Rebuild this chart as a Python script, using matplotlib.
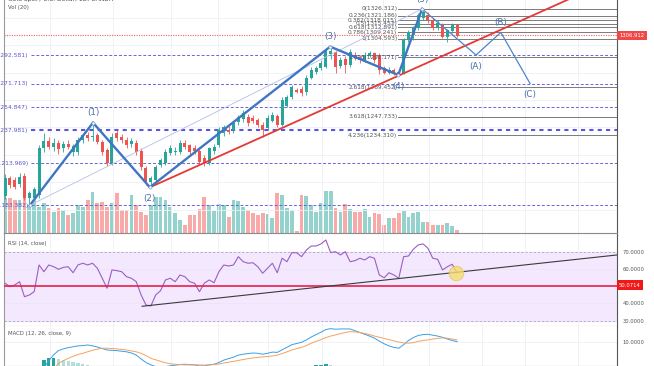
import numpy as np
import matplotlib
matplotlib.use("Agg")
import matplotlib.pyplot as plt

W, H = 654, 366   # output size in px

# ---- daily candles (index = bar number) ----
opens = [1190, 1203, 1202, 1199, 1205, 1188.5, 1189, 1191, 1225, 1230,
         1226, 1229, 1225, 1228, 1222, 1222, 1231, 1234.5, 1233, 1234.5,
         1229.5, 1223.6, 1214, 1236, 1233, 1231, 1228, 1229, 1223, 1210.5,
         1200, 1202, 1213, 1214, 1221.5, 1222, 1222, 1229, 1227, 1225,
         1223, 1218, 1214, 1223, 1227.3, 1236, 1238, 1238, 1244, 1246,
         1248, 1247, 1245.5, 1242, 1239.6, 1245, 1248.4, 1242, 1256, 1262,
         1267.5, 1268, 1265.7, 1276, 1280.5, 1283, 1284, 1293.5, 1295, 1285,
         1290, 1285.5, 1293, 1291, 1289, 1292, 1294, 1292.7, 1283, 1280,
         1281.7, 1280.5, 1280, 1303.6, 1307, 1312.4, 1320, 1321.8, 1318, 1313,
         1314.5, 1306, 1310, 1314.5]
highs = [1206, 1205, 1204, 1207, 1207, 1194, 1197, 1227, 1236, 1233,
         1232, 1231, 1230, 1231, 1228, 1233, 1236, 1237, 1243.5, 1236,
         1231, 1225, 1236, 1238, 1235, 1233, 1232, 1231, 1225, 1212,
         1205, 1213, 1218, 1224, 1227, 1226, 1231, 1231, 1228, 1227,
         1224, 1220, 1226, 1228, 1240, 1242, 1241, 1245, 1249, 1253,
         1250, 1249, 1247, 1244, 1249, 1251, 1250, 1262, 1264, 1271,
         1269, 1270, 1278, 1284, 1285, 1289, 1298, 1298.8, 1296, 1291,
         1292, 1297, 1295, 1293, 1295, 1296, 1295, 1294, 1285, 1284,
         1283, 1282, 1305, 1311, 1314, 1323, 1326.3, 1324, 1320, 1318,
         1316, 1312, 1316, 1315]
lows = [1188, 1196, 1195, 1197, 1187, 1183.4, 1187, 1189, 1222, 1224,
        1223, 1221, 1222, 1224, 1219, 1220, 1229, 1230, 1230, 1228,
        1220, 1212, 1213, 1230, 1229, 1225, 1226, 1220, 1209, 1198,
        1196.5, 1200, 1211, 1213, 1220, 1220, 1221, 1224, 1220, 1221,
        1213, 1212, 1213, 1221, 1226, 1234, 1235, 1236, 1242, 1244,
        1241, 1243, 1240, 1233, 1238, 1244, 1240, 1241, 1255, 1261,
        1265, 1263, 1264, 1275, 1279, 1282, 1283, 1290, 1280, 1283,
        1280, 1284, 1289, 1287, 1288, 1291, 1287, 1279, 1279, 1279,
        1278.5, 1278.2, 1279, 1302, 1304, 1311, 1318, 1316, 1311, 1311,
        1305, 1302, 1309, 1306]
closes = [1203, 1198, 1197, 1204, 1189, 1192, 1195, 1225, 1230, 1226,
          1229, 1224, 1228, 1226, 1226.6, 1231, 1234.5, 1232.5, 1234, 1229.5,
          1222, 1214.2, 1233, 1232.5, 1231, 1227.5, 1230, 1222, 1211, 1200.5,
          1203, 1211, 1216.4, 1222, 1225, 1223, 1229, 1226, 1222, 1223,
          1215, 1214, 1225, 1226, 1238.2, 1240, 1236.7, 1243, 1247.6, 1250.5,
          1243.3, 1244.7, 1241.8, 1238.2, 1247, 1249, 1241.8, 1260, 1262, 1269.5,
          1266, 1265, 1276, 1282, 1283, 1287, 1296.4, 1295.5, 1284, 1289,
          1285.5, 1295, 1291, 1289, 1293, 1294, 1289, 1282, 1280, 1282,
          1279.6, 1279, 1303.6, 1309.5, 1312.4, 1321.8, 1324, 1318, 1312.4, 1316,
          1306, 1311, 1314.5, 1306.9]
volume = [34.7, 34.7, 33, 33, 34.7, 28, 33, 26.3, 29.7, 24.7,
          21.3, 24.7, 23, 18, 19.7, 28, 26.3, 33, 41.3, 29.7,
          31.3, 26.3, 29.7, 39.7, 23, 23, 38, 28, 21.3, 18,
          28, 36.3, 36.3, 33, 26.3, 19.7, 13, 8, 18, 18,
          24, 36.3, 28, 21.7, 29, 28, 16, 33, 32, 26,
          22.7, 20, 18, 20, 19, 15.3, 39.7, 38, 25.3, 22.3,
          2, 38, 37, 28, 21.3, 29.7, 42, 42, 25.3, 20.7,
          28.7, 23.7, 21.3, 21.3, 23.7, 16.3, 20, 19, 8, 14.7,
          14.7, 20.3, 22, 16.3, 20, 21, 11.3, 11.3, 8, 8,
          8, 9.7, 7.3, 3]
rsi = [51.7, 49.7, 50.7, 52.6, 43.9, 44.9, 46.8, 62.3, 58.4, 62.3,
       61.3, 59.8, 60.9, 61.3, 57.8, 62.3, 63.3, 62.3, 63.3, 60.4,
       54.6, 48.8, 59.4, 59.0, 58.4, 55.5, 54.6, 52.6, 44.9, 39.1,
       38.5, 44.9, 47.4, 53.6, 54.6, 52.6, 56.5, 55.5, 52.6, 51.7,
       46.8, 51.7, 53.6, 52.0, 58.4, 62.3, 61.7, 62.3, 67.1, 64.2,
       63.3, 63.6, 61.3, 57.5, 60.4, 63.3, 57.8, 66.2, 64.2, 69.4,
       69.4, 67.1, 71.0, 73.3, 73.3, 74.5, 76.8, 69.5, 70.0, 68.1,
       70.0, 64.2, 64.8, 66.2, 65.2, 67.1, 66.2, 56.5, 54.9, 57.8,
       56.5, 54.6, 67.1, 67.5, 71.4, 73.9, 74.5, 72.0, 66.2, 65.6,
       59.4, 61.3, 62.7, 57.8]
macd = [-4.5, -4.6, -4.6, -4.2, -4.8, -5.0, -4.4, -1.5, 1.5, 3.8,
        5.8, 7.2, 7.8, 8.2, 8.5, 8.8, 8.9, 9.1, 8.8, 8.4,
        7.9, 7.4, 7.3, 7.2, 7.0, 6.8, 6.4, 5.7, 4.4, 3.2,
        2.4, 1.8, 1.6, 1.8, 2.1, 2.3, 2.5, 2.6, 2.5, 2.4,
        2.0, 2.1, 2.4, 2.6, 3.2, 4.0, 4.5, 5.0, 5.7, 6.0,
        6.2, 6.4, 6.3, 6.0, 6.3, 6.7, 6.6, 7.5, 8.3, 9.2,
        9.6, 10.0, 10.8, 11.8, 12.6, 13.4, 14.3, 14.6, 14.4, 14.5,
        14.5, 14.5, 13.9, 13.3, 12.7, 12.1, 11.4, 10.4, 9.5, 8.8,
        8.3, 8.0, 9.2, 10.6, 11.6, 12.3, 12.6, 12.7, 12.4, 12.1,
        11.7, 11.1, 10.6, 10.2]
signal = [-3.0, -3.3, -3.5, -3.6, -3.8, -4.0, -4.1, -3.6, -2.6, -0.9,
          1.0, 2.9, 3.8, 4.6, 5.3, 5.9, 6.3, 6.8, 7.3, 7.7,
          8.0, 8.0, 7.9, 7.8, 7.6, 7.4, 7.1, 6.8, 6.3, 5.5,
          4.6, 4.1, 3.6, 3.1, 2.8, 2.6, 2.5, 2.4, 2.4, 2.4,
          2.4, 2.3, 2.4, 2.5, 2.7, 3.0, 3.3, 3.6, 3.9, 4.2,
          4.5, 4.7, 4.9, 5.1, 5.2, 5.4, 5.7, 6.2, 6.8, 7.4,
          7.9, 8.3, 8.9, 9.7, 10.3, 10.9, 11.6, 12.1, 12.5, 12.9,
          13.3, 13.6, 13.5, 13.3, 13.0, 12.6, 12.1, 11.7, 11.3, 10.9,
          10.5, 10.1, 9.8, 9.7, 9.9, 10.3, 10.6, 10.8, 11.1, 11.3,
          11.5, 11.4, 11.1, 10.8]

# ---- drawings ----
wave_x = [5.1, 18.1, 29.8, 66.9, 80.9, 85.8]
wave_y = [1183.4, 1243.5, 1196.5, 1298.8, 1278.2, 1326.3]
wave_lbl = ["", "(1)", "(2)", "(3)", "(4)", "(5)"]
proj_x = [85.8, 96.9, 102.0, 108.0]
proj_y = [1326.3, 1292.7, 1309.2, 1272.1]
proj_lbl = ["", "(A)", "(B)", "(C)"]
trend_x = [29.8, 125.0]
trend_y = [1196.5, 1347.6]
left_fib = [1183.382, 1213.969, 1237.981, 1254.847, 1271.713, 1292.581]
right_fib_r = ["0", "0.236", "0.382", "0.5", "0.618", "0.786", "1",
               "1.618", "2.618", "3.618", "4.236"]
right_fib = [1326.312, 1321.186, 1318.015, 1315.453, 1312.891, 1309.241,
             1304.593, 1291.171, 1269.452, 1247.733, 1234.310]
last_price = 1306.912
rsi_trend_x = [28.2, 125.9]
rsi_trend_y = [38.35, 68.1]
rsi_line = 50.0714
rsi_mark = (92.8, 57.8)
grid_x = [9.3, 22.2, 34.1, 43.8, 54.1, 65.2, 77.8, 87.2, 98.1, 107.0, 117.9]

n = len(closes)
x = np.arange(n)
o, h, l, c = map(np.array, (opens, highs, lows, closes))
up = c >= o
GREEN, RED = "#26a69a", "#ef5350"
XL = (-0.21, 125.9)
GRID = "#eef0f6"

fig = plt.figure(figsize=(W / 100, H / 100), dpi=100)
ax = fig.add_axes([4 / W, 1 - 233 / H, 613 / W, 233 / H])
axr = fig.add_axes([4 / W, 1 - 325.5 / H, 613 / W, 92.5 / H])
axm = fig.add_axes([4 / W, 0, 613 / W, 40.5 / H])

for a in (ax, axr, axm):
    a.set_xlim(*XL)
    a.set_xticks([])
    a.yaxis.tick_right()
    a.tick_params(axis="y", length=0, pad=4, labelsize=3.8, labelcolor="#555555")
    for xg in grid_x:
        a.axvline(xg, color=GRID, lw=0.6, zorder=0)
    a.spines["top"].set_visible(False)
    a.spines["left"].set_color("#9a9a9a")
    a.spines["right"].set_color("#555555")
    a.spines["bottom"].set_color("#8a8a8a")
    a.spines["left"].set_linewidth(0.8)

# ---- price pane ----
ax.set_ylim(1163.27, 1332.73)
ticks = np.arange(1180, 1321, 20)
ax.set_yticks(ticks)
ax.set_yticklabels([f"{t:.3f}" for t in ticks])
for t in ticks:
    ax.axhline(t, color=GRID, lw=0.6, zorder=0)

axv = ax.twinx()
axv.set_ylim(0, 233)
axv.set_xlim(*XL)
axv.set_yticks([])
for s in axv.spines.values():
    s.set_visible(False)
axv.bar(x, volume, width=0.78, color=np.where(up, "#94d3cd", "#f8aaa8"), zorder=1)
ax.set_zorder(axv.get_zorder() + 1)
ax.patch.set_visible(False)

cols = np.where(up, GREEN, RED)
ax.vlines(x, l, h, colors=cols, lw=0.6, zorder=3)
ax.bar(x, np.maximum(np.abs(c - o), 0.35), bottom=np.minimum(o, c), width=0.62,
       color=cols, zorder=3)

for lv in left_fib:
    if lv == 1237.981:
        ax.plot([5.4, XL[1]], [lv, lv], color="#5a55e0", lw=1.5, ls=(0, (2, 2)), zorder=2)
    else:
        ax.plot([5.4, XL[1]], [lv, lv], color="#6b63d9", lw=0.7, ls=(0, (3, 2)), zorder=2)
    ax.text(4.8, lv, f"({lv:.3f})", fontsize=4.3, color="#5d56d0",
            ha="right", va="center", clip_on=False, zorder=4)

for r, lv in zip(right_fib_r, right_fib):
    ax.plot([80.9, XL[1]], [lv, lv], color="#7a7a7a", lw=0.7, zorder=2)
    ax.text(80.7, lv, f"{r}({lv:.3f})", fontsize=4.2, color="#555555",
            ha="right", va="center", zorder=4)

ax.axhline(last_price, color="#f06060", lw=0.8, ls=(0, (1, 1.2)), zorder=2)

ax.plot(trend_x, trend_y, color="#e53935", lw=1.3, zorder=5)
ax.plot([wave_x[0], wave_x[-1]], [wave_y[0], wave_y[-1]], color="#b4c0e8", lw=0.6, zorder=4)
ax.plot(wave_x, wave_y, color="#3f76c2", lw=1.7, zorder=6, solid_joinstyle="miter")
ax.plot(wave_x, wave_y, "o", ms=2.2, mfc="white", mec="#7d9bd0", mew=0.5, zorder=7)
ax.plot(proj_x, proj_y, color="#4d86c8", lw=0.9, zorder=6)


def wave_text(xs, ys, labels):
    for i, (xx, yy, t) in enumerate(zip(xs, ys, labels)):
        if not t:
            continue
        prev = ys[i - 1] if i > 0 else yy
        above = yy > prev
        ax.annotate(t, (xx, yy), xytext=(0, 7 if above else -8), textcoords="offset points",
                    ha="center", va="center", fontsize=6.3, color="#4a6ea8", zorder=8)


wave_text(wave_x, wave_y, wave_lbl)
wave_text(proj_x, proj_y, proj_lbl)

fig.text(8 / W, 1 + 1 / H, "Gold Spot / U.S. Dollar, 1D, OANDA", fontsize=4.3,
         color="#444444", va="center")
fig.text(8 / W, 1 - 8 / H, "Vol (20)", fontsize=3.9, color="#555555", va="center")
fig.text(619 / W, 1 - 35.5 / H, f"{last_price:.3f}", fontsize=3.8, color="white",
         va="center", bbox=dict(boxstyle="square,pad=0.45", fc="#f04848", ec="none"))

# ---- RSI pane ----
axr.set_ylim(27.2, 80.84)
axr.axhspan(30, 70, color="#f3e8fd", zorder=0)
for lv in (30, 70):
    axr.axhline(lv, color="#b0a8c8", lw=0.6, ls=(0, (3, 2)), zorder=1)
for lv in (40, 60):
    axr.axhline(lv, color="#ece4f6", lw=0.6, zorder=1)
axr.set_yticks([30, 40, 60, 70])
axr.set_yticklabels([f"{t:.4f}" for t in (30, 40, 60, 70)])
axr.plot(x, rsi, color="#9a5fc4", lw=0.8, zorder=3)
axr.axhline(rsi_line, color="#e8204a", lw=1.2, zorder=3)
axr.plot(rsi_trend_x, rsi_trend_y, color="#3a3a3a", lw=0.8, zorder=4)
axr.scatter([rsi_mark[0]], [rsi_mark[1]], s=110, color="#f6dc6e", alpha=0.8,
            edgecolors="#e2c45a", linewidths=0.6, zorder=5)
fig.text(8 / W, 1 - 243 / H, "RSI (14, close)", fontsize=3.9, color="#555555", va="center")
fig.text(619 / W, 1 - 285.3 / H, f"{rsi_line:.4f}", fontsize=3.8, color="white",
         va="center", bbox=dict(boxstyle="square,pad=0.45", fc="#f01818", ec="none"))

# ---- MACD pane ----
axm.set_ylim(2.02, 15.66)
axm.set_yticks([10])
axm.set_yticklabels(["10.0000"])
axm.axhline(10, color=GRID, lw=0.6, zorder=0)
mc, sg = np.array(macd), np.array(signal)
hist = mc - sg
prev = np.r_[hist[0], hist[:-1]]
hcol = np.where(hist >= 0, np.where(hist >= prev, "#26a69a", "#b2dfdb"),
                np.where(hist <= prev, "#ef5350", "#ffcdd2"))
axm.bar(x, hist, width=0.7, color=hcol, zorder=1)
axm.plot(x, mc, color="#3a9ee8", lw=0.7, zorder=3)
axm.plot(x, sg, color="#f4a261", lw=0.7, zorder=3)
fig.text(8 / W, 1 - 334 / H, "MACD (12, 26, close, 9)", fontsize=3.9, color="#555555",
         va="center")

fig.savefig("out.png", dpi=100)
